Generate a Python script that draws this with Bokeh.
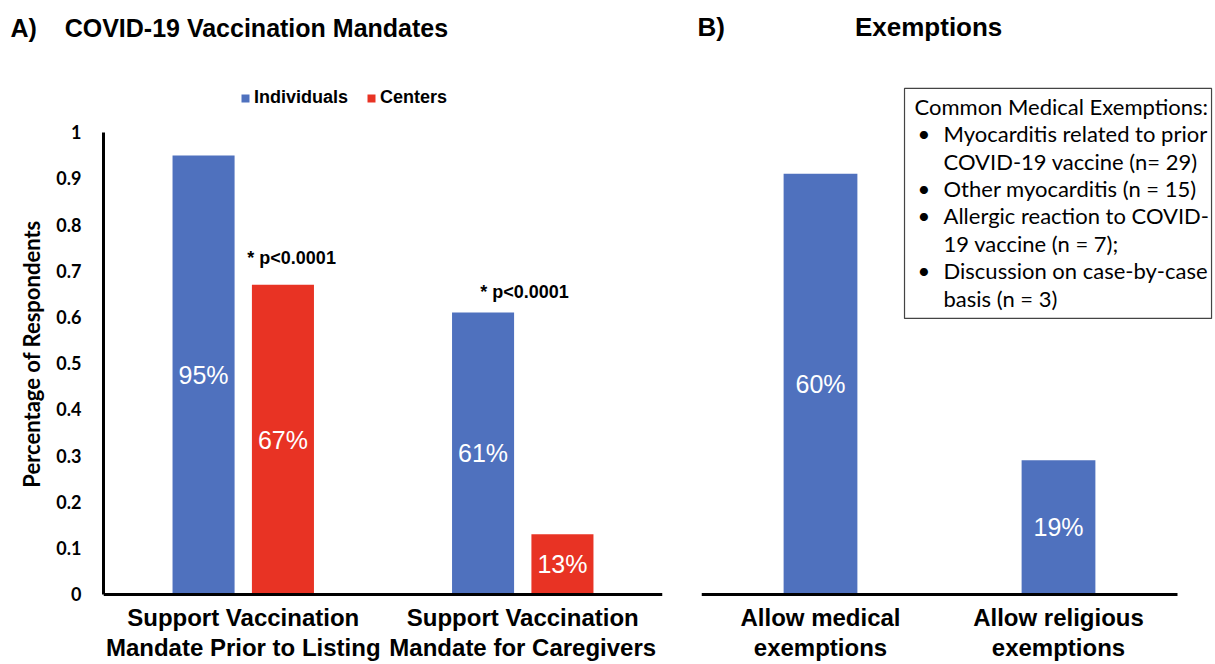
from bokeh.plotting import figure
from bokeh.layouts import row
from bokeh.models import (ColumnDataSource, FixedTicker, NumeralTickFormatter, Title,
                          Legend, LegendItem, BoxAnnotation, Range1d)
from bokeh.embed import file_html
from bokeh.resources import INLINE
from bokeh.core.properties import value

# ---------------- data ----------------
mandate_categories = ["Support Vaccination\nMandate Prior to Listing",
                      "Support Vaccination\nMandate for Caregivers"]
individuals = [0.95, 0.61]
centers = [0.67, 0.13]
individual_labels = ["95%", "61%"]
center_labels = ["67%", "13%"]
p_texts = ["* p<0.0001", "* p<0.0001"]
p_x = [0.673, 1.506]
p_y = [0.727, 0.654]

exemption_categories = ["Allow medical\nexemptions", "Allow religious\nexemptions"]
exemption_values = [0.91, 0.29]
exemption_labels = ["60%", "19%"]

box_title = "Common Medical Exemptions:"
box_lines = [("•", "Myocarditis related to prior"),
             ("", "COVID-19 vaccine (n= 29)"),
             ("•", "Other myocarditis (n = 15)"),
             ("•", "Allergic reaction to COVID-"),
             ("", "19 vaccine (n = 7);"),
             ("•", "Discussion on case-by-case"),
             ("", "basis (n = 3)")]

y_ticks = [0, 0.1, 0.2, 0.3, 0.4, 0.5, 0.6, 0.7, 0.8, 0.9, 1.0]

BLUE = "#4F71BE"
RED = "#E83324"
ARIAL = "Liberation Sans"
CAL = "Lato"
NB = "\u00a0"

PX_PER_UNIT = 462
FRAME_H = 619
YMAX = 1.19
YMIN = YMAX - FRAME_H / PX_PER_UNIT
CAT_Y = -0.0823


def style_common(p):
    p.outline_line_color = None
    p.xgrid.grid_line_color = None
    p.ygrid.grid_line_color = None
    p.background_fill_color = "white"
    p.border_fill_color = "white"
    ax = p.xaxis[0]
    ax.fixed_location = 0
    ax.ticker = FixedTicker(ticks=[])
    ax.bounds = (0, 2)
    ax.axis_line_width = 3
    ax.axis_line_color = "black"
    ax.major_tick_line_color = None
    ax.minor_tick_line_color = None
    ax.major_label_text_font_size = "0px"
    ax.major_label_standoff = 0


def add_title(p, text, size, offset):
    t = Title(text=text, align="left", offset=offset, standoff=5,
              text_font=ARIAL, text_font_style="bold", text_font_size=size, text_color="black")
    p.add_layout(t, "above")


def category_labels(p, xs, labels):
    p.text(x=xs, y=[CAT_Y] * len(xs), text=labels, text_font=value(ARIAL), text_font_style="bold",
           text_font_size="24px", text_align="center", text_baseline="middle",
           text_line_height=1.12, text_color="black")


# ---------------- panel A ----------------
pa = figure(frame_width=559, frame_height=FRAME_H, x_range=Range1d(0, 2), y_range=Range1d(YMIN, YMAX),
            output_backend="svg", toolbar_location=None, title=None,
            min_border_left=103, min_border_right=18, min_border_top=44, min_border_bottom=0)
style_common(pa)

xa = [0.5, 1.5]
off = 0.142
bw = 0.222
src_ind = ColumnDataSource(dict(x=[v - off for v in xa], top=individuals,
                                mid=[v / 2 for v in individuals], lab=individual_labels))
src_cen = ColumnDataSource(dict(x=[v + off for v in xa], top=centers,
                                mid=[v / 2 for v in centers], lab=center_labels))
r_ind = pa.vbar(x="x", top="top", width=bw, source=src_ind, fill_color=BLUE, line_color=None)
r_cen = pa.vbar(x="x", top="top", width=bw, source=src_cen, fill_color=RED, line_color=None)
for s in (src_ind, src_cen):
    pa.text(x="x", y="mid", text="lab", source=s, text_color="white", text_font=value(ARIAL),
            text_font_size="25px", text_align="center", text_baseline="middle")
pa.text(x=p_x, y=p_y, text=p_texts, text_font=value(ARIAL), text_font_style="bold",
        text_font_size="18px", text_align="center", text_baseline="middle", text_color="black")
category_labels(pa, xa, mandate_categories)

ya = pa.yaxis[0]
ya.ticker = FixedTicker(ticks=y_ticks)
ya.formatter = NumeralTickFormatter(format="0.[0]")
ya.bounds = (0, 1)
ya.axis_line_width = 3
ya.axis_line_color = "black"
ya.major_tick_line_color = None
ya.minor_tick_line_color = None
ya.major_label_text_font = CAL
ya.major_label_text_font_style = "bold"
ya.major_label_text_font_size = "18px"
ya.major_label_text_color = "black"
ya.major_label_standoff = 16
ya.axis_label = "Percentage of Respondents"
ya.axis_label_text_font = CAL
ya.axis_label_text_font_style = "bold"
ya.axis_label_text_font_size = "22px"
ya.axis_label_text_color = "black"
ya.axis_label_standoff = 8

legend = Legend(items=[LegendItem(label="Individuals", renderers=[r_ind]),
                       LegendItem(label="Centers", renderers=[r_cen])],
                location=(137, 555), orientation="horizontal",
                glyph_width=10, glyph_height=10, label_standoff=4, spacing=18,
                padding=0, margin=0, border_line_color=None, background_fill_alpha=0,
                label_text_font=ARIAL, label_text_font_style="bold",
                label_text_font_size="18px", label_text_color="black")
pa.add_layout(legend, "center")
add_title(pa, "A)" + NB * 4 + "COVID-19 Vaccination Mandates", "25px", -93)

# ---------------- panel B ----------------
FRAME_WB = 512
pb = figure(frame_width=FRAME_WB, frame_height=FRAME_H, x_range=Range1d(0, FRAME_WB / 238),
            y_range=Range1d(YMIN, YMAX), output_backend="svg", toolbar_location=None, title=None,
            min_border_left=21, min_border_right=0, min_border_top=44, min_border_bottom=0)
style_common(pb)
pb.yaxis.visible = False
src_ex = ColumnDataSource(dict(x=[0.5, 1.5], top=exemption_values,
                               mid=[v / 2 for v in exemption_values], lab=exemption_labels))
pb.vbar(x="x", top="top", width=0.31, source=src_ex, fill_color=BLUE, line_color=None)
pb.text(x="x", y="mid", text="lab", source=src_ex, text_color="white", text_font=value(ARIAL),
        text_font_size="25px", text_align="center", text_baseline="middle")
category_labels(pb, [0.5, 1.5], exemption_categories)
add_title(pb, "B)" + NB * 18 + "Exemptions", "26px", -4)

# text box
pb.add_layout(BoxAnnotation(left=0.853, right=2.143, top=1.095, bottom=0.597,
                            fill_alpha=0, line_color="#444444", line_width=1.2, line_alpha=1))
row_step = 0.0593
top_y = 1.056
pb.text(x=[0.895], y=[top_y], text=[box_title], text_font=value(CAL), text_font_size="22px",
        text_baseline="middle", text_align="left", text_color="black")
bul_x, bul_y, bul_t, ln_y, ln_t = [], [], [], [], []
for i, (b, t) in enumerate(box_lines):
    yy = top_y - (i + 1) * row_step
    if b:
        bul_x.append(0.908)
        bul_y.append(yy)
        bul_t.append(b)
    ln_y.append(yy)
    ln_t.append(t)
pb.text(x=bul_x, y=bul_y, text=bul_t, text_font=value(CAL), text_font_size="22px",
        text_baseline="middle", text_align="left", text_color="black")
pb.text(x=[1.017] * len(ln_t), y=ln_y, text=ln_t, text_font=value(CAL), text_font_size="22px",
        text_baseline="middle", text_align="left", text_color="black")

layout = row(pa, pb)
open("out.html", "w").write(file_html(layout, INLINE))
